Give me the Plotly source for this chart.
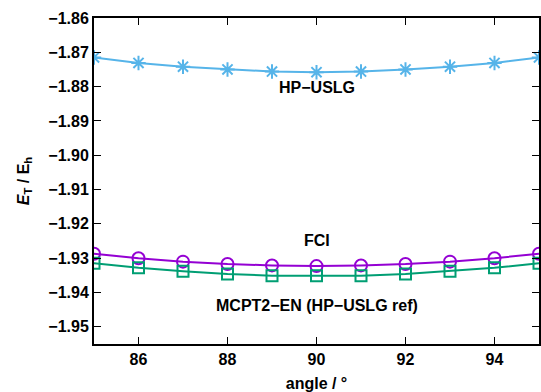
import plotly.graph_objects as go

angles = [85, 86, 87, 88, 89, 90, 91, 92, 93, 94, 95]
hp_uslg = [-1.8715, -1.8731, -1.8742, -1.8750, -1.8756, -1.8758, -1.8756, -1.8750, -1.8742, -1.8731, -1.8715]
fci = [-1.9287, -1.9300, -1.9310, -1.9317, -1.9321, -1.9323, -1.9321, -1.9317, -1.9310, -1.9300, -1.9287]
mcpt2 = [-1.9315, -1.9328, -1.9338, -1.9346, -1.9351, -1.9351, -1.9351, -1.9346, -1.9338, -1.9328, -1.9315]

x_ticks = [86, 88, 90, 92, 94]
y_ticks = [-1.86, -1.87, -1.88, -1.89, -1.90, -1.91, -1.92, -1.93, -1.94, -1.95]
y_ticklabels = ["\u2212%.2f" % abs(v) for v in y_ticks]

labels = [
    ("HP\u2212USLG", 90, -1.8803),
    ("FCI", 90, -1.9247),
    ("MCPT2\u2212EN (HP\u2212USLG ref)", 90, -1.9439),
]

FONT = "Liberation Sans"

fig = go.Figure()
fig.add_trace(go.Scatter(x=angles, y=hp_uslg, mode="lines+markers",
                         line=dict(color="#56B4E9", width=2),
                         marker=dict(symbol="asterisk-open", size=12, color="#56B4E9",
                                     line=dict(color="#56B4E9", width=2))))
fig.add_trace(go.Scatter(x=angles, y=fci, mode="lines+markers",
                         line=dict(color="#9400D3", width=2),
                         marker=dict(symbol="circle-open", size=12, color="#9400D3",
                                     line=dict(color="#9400D3", width=2))))
fig.add_trace(go.Scatter(x=angles, y=mcpt2, mode="lines+markers",
                         line=dict(color="#009E73", width=2),
                         marker=dict(symbol="square-open", size=11, color="#009E73",
                                     line=dict(color="#009E73", width=2))))

for text, xv, yv in labels:
    fig.add_annotation(x=xv, y=yv, text="<b>%s</b>" % text, showarrow=False,
                       font=dict(family=FONT, size=16, color="black"),
                       xanchor="center", yanchor="middle")

axis_common = dict(showline=True, linecolor="black", linewidth=2, mirror="ticks",
                   ticks="inside", ticklen=7, tickwidth=1, tickcolor="black",
                   showgrid=False, zeroline=False, automargin=False,
                   tickfont=dict(family=FONT, size=16, color="black", weight="bold"))

fig.update_xaxes(range=[85, 95], tickvals=x_ticks, ticktext=[str(t) for t in x_ticks],
                 title=dict(text="<b>angle / \u00b0</b>", font=dict(family=FONT, size=16, color="black")),
                 **axis_common)
fig.update_yaxes(range=[-1.955, -1.86], tickvals=y_ticks, ticktext=y_ticklabels,
                 title=dict(text="<b><i>E</i><sub>T</sub> / E<sub>h</sub></b>",
                            font=dict(family=FONT, size=16, color="black")),
                 **axis_common)

fig.update_layout(width=541, height=392, showlegend=False,
                  margin=dict(l=94, r=2, t=18, b=48),
                  plot_bgcolor="white", paper_bgcolor="white")

fig.write_html("out.html", config={"displayModeBar": False},
               post_script="document.body.style.margin='0';document.body.style.overflow='hidden';")
